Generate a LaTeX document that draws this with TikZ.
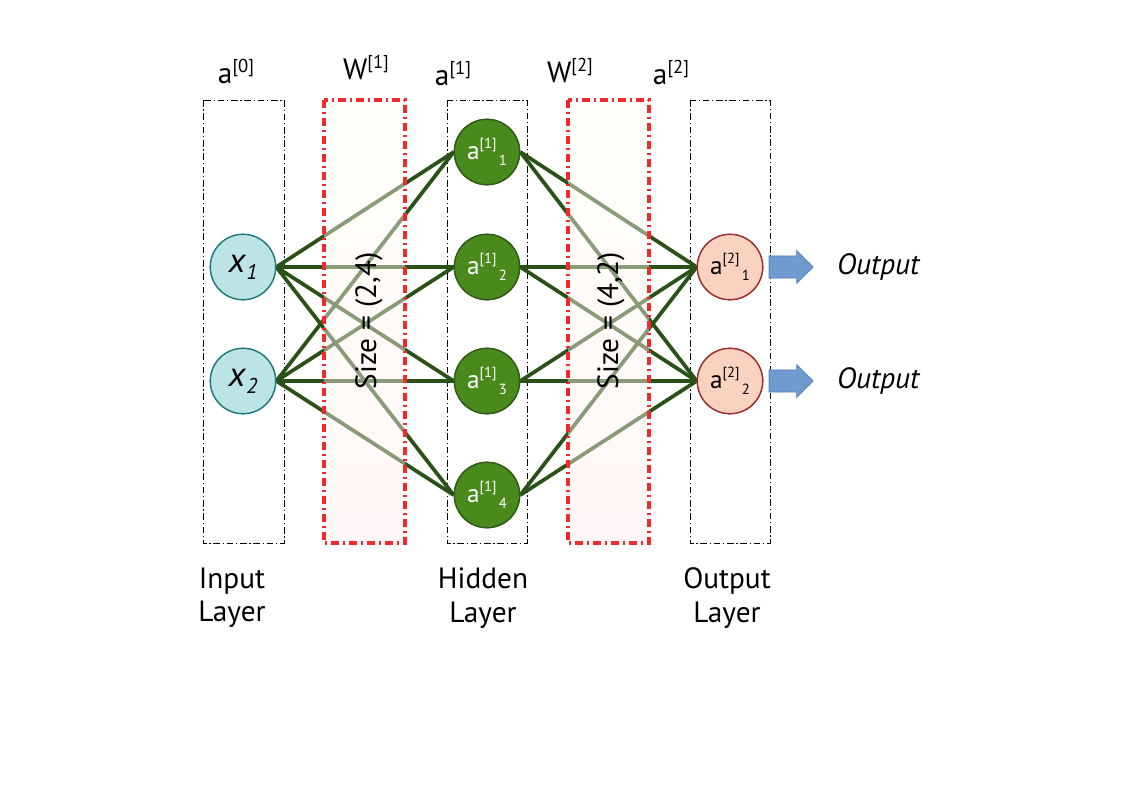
\documentclass[tikz,border=0pt]{standalone}
\usepackage{fontspec}
\setmainfont{PT Sans}
\usetikzlibrary{positioning, shapes.arrows}

\definecolor{edgegreen}{HTML}{2A5117}
\definecolor{hidfill}{HTML}{4A8A1C}
\definecolor{hiddraw}{HTML}{2E5A14}
\definecolor{infill}{HTML}{BDE4E4}
\definecolor{indraw}{HTML}{1F7B7B}
\definecolor{outfill}{HTML}{FAD3C0}
\definecolor{outdraw}{HTML}{9E2B2B}
\definecolor{arrfill}{HTML}{6F9BD1}
\definecolor{arrdraw}{HTML}{4F7CB8}
\definecolor{wred}{HTML}{F02A2A}

\newcommand{\actv}[2]{a\raisebox{8pt}{\fontsize{11}{11}\selectfont[#1]}\raisebox{-5pt}{\fontsize{11}{11}\selectfont\,#2}}
\newcommand{\toplbl}[2]{#1\raisebox{8pt}{\fontsize{14}{14}\selectfont[#2]}}
\newcommand{\inpx}[1]{\textit{x}\raisebox{-5pt}{\fontsize{16}{16}\selectfont\textit{#1}}}

\begin{document}
\begin{tikzpicture}[x=0.75pt, y=-0.75pt, font=\fontsize{22}{25}\selectfont]
    \tikzstyle{layerbox} = [draw=black, line width=0.6pt, dash pattern=on 5pt off 2pt on 1pt off 2pt]
    \tikzstyle{weightbox} = [draw=wred, line width=2.3pt, dash pattern=on 6pt off 3pt on 1.5pt off 3pt, top color=yellow!5, bottom color=red!7, fill opacity=0.45]
    \tikzstyle{edge} = [draw=edgegreen, line width=2.8pt]
    \tikzstyle{neuronin} = [circle, draw=indraw, fill=infill, line width=1pt, minimum size=49pt, inner sep=0pt, font=\fontsize{26}{26}\selectfont]
    \tikzstyle{neuronhid} = [circle, draw=hiddraw, fill=hidfill, line width=1pt, minimum size=49pt, inner sep=0pt, text=white, font=\fontsize{19}{19}\selectfont]
    \tikzstyle{neuronout} = [circle, draw=outdraw, fill=outfill, line width=1pt, minimum size=49pt, inner sep=0pt, font=\fontsize{19}{19}\selectfont]
    \tikzstyle{outarrow} = [single arrow, draw=arrdraw, fill=arrfill, line width=0.6pt, inner xsep=0pt, inner ysep=8pt, minimum height=33pt, single arrow head extend=4pt]
    \useasboundingbox (0,0) rectangle (1123,794);

\draw[layerbox] (203,100) rectangle (284,543);
\draw[layerbox] (447,100) rectangle (527,543);
\draw[layerbox] (690,100) rectangle (770,543);

\node[neuronin] (x1) at (243,267) {};
\node[neuronin] (x2) at (243,381) {};
\node[neuronhid] (h1) at (487,152) {};
\node[neuronhid] (h2) at (487,267) {};
\node[neuronhid] (h3) at (487,381) {};
\node[neuronhid] (h4) at (487,495) {};
\node[neuronout] (o1) at (730,267) {};
\node[neuronout] (o2) at (730,381) {};

\foreach \i in {1,2}
    \foreach \j in {1,...,4}
        \draw[edge] (x\i.east) -- (h\j.west);
\foreach \j in {1,...,4}
    \foreach \k in {1,2}
        \draw[edge] (h\j.east) -- (o\k.west);

\draw[weightbox] (324,100) rectangle (405,543);
\draw[weightbox] (568,100) rectangle (649,543);

\node[rotate=90] (s1) at (369,321) {Size = (2,4)};
\node[rotate=90] (s2) at (611,321) {Size = (4,2)};

\node[neuronin] at (x1) {\inpx{1}};
\node[neuronin] at (x2) {\inpx{2}};
\node[neuronhid] at (h1) {\actv{1}{1}};
\node[neuronhid] at (h2) {\actv{1}{2}};
\node[neuronhid] at (h3) {\actv{1}{3}};
\node[neuronhid] at (h4) {\actv{1}{4}};
\node[neuronout] at (o1) {\actv{2}{1}};
\node[neuronout] at (o2) {\actv{2}{2}};

\node[outarrow, right=4pt of o1] (ar1) {};
\node[outarrow, right=4pt of o2] (ar2) {};
\node[right=14pt of ar1] (out1) {\textit{Output}};
\node[right=14pt of ar2] (out2) {\textit{Output}};

\node[anchor=base] (l0) at (236,83) {\toplbl{a}{0}};
\node[anchor=base] (w1) at (366,79) {\toplbl{W}{1}};
\node[anchor=base] (l1) at (453,85) {\toplbl{a}{1}};
\node[anchor=base] (w2) at (570,82) {\toplbl{W}{2}};
\node[anchor=base] (l2) at (671,84) {\toplbl{a}{2}};

\node[align=center] (inl) at (232,598) {Input\\Layer};
\node[align=center] (hidl) at (483,598) {Hidden\\Layer};
\node[align=center] (outl) at (727,598) {Output\\Layer};
\end{tikzpicture}
\end{document}
